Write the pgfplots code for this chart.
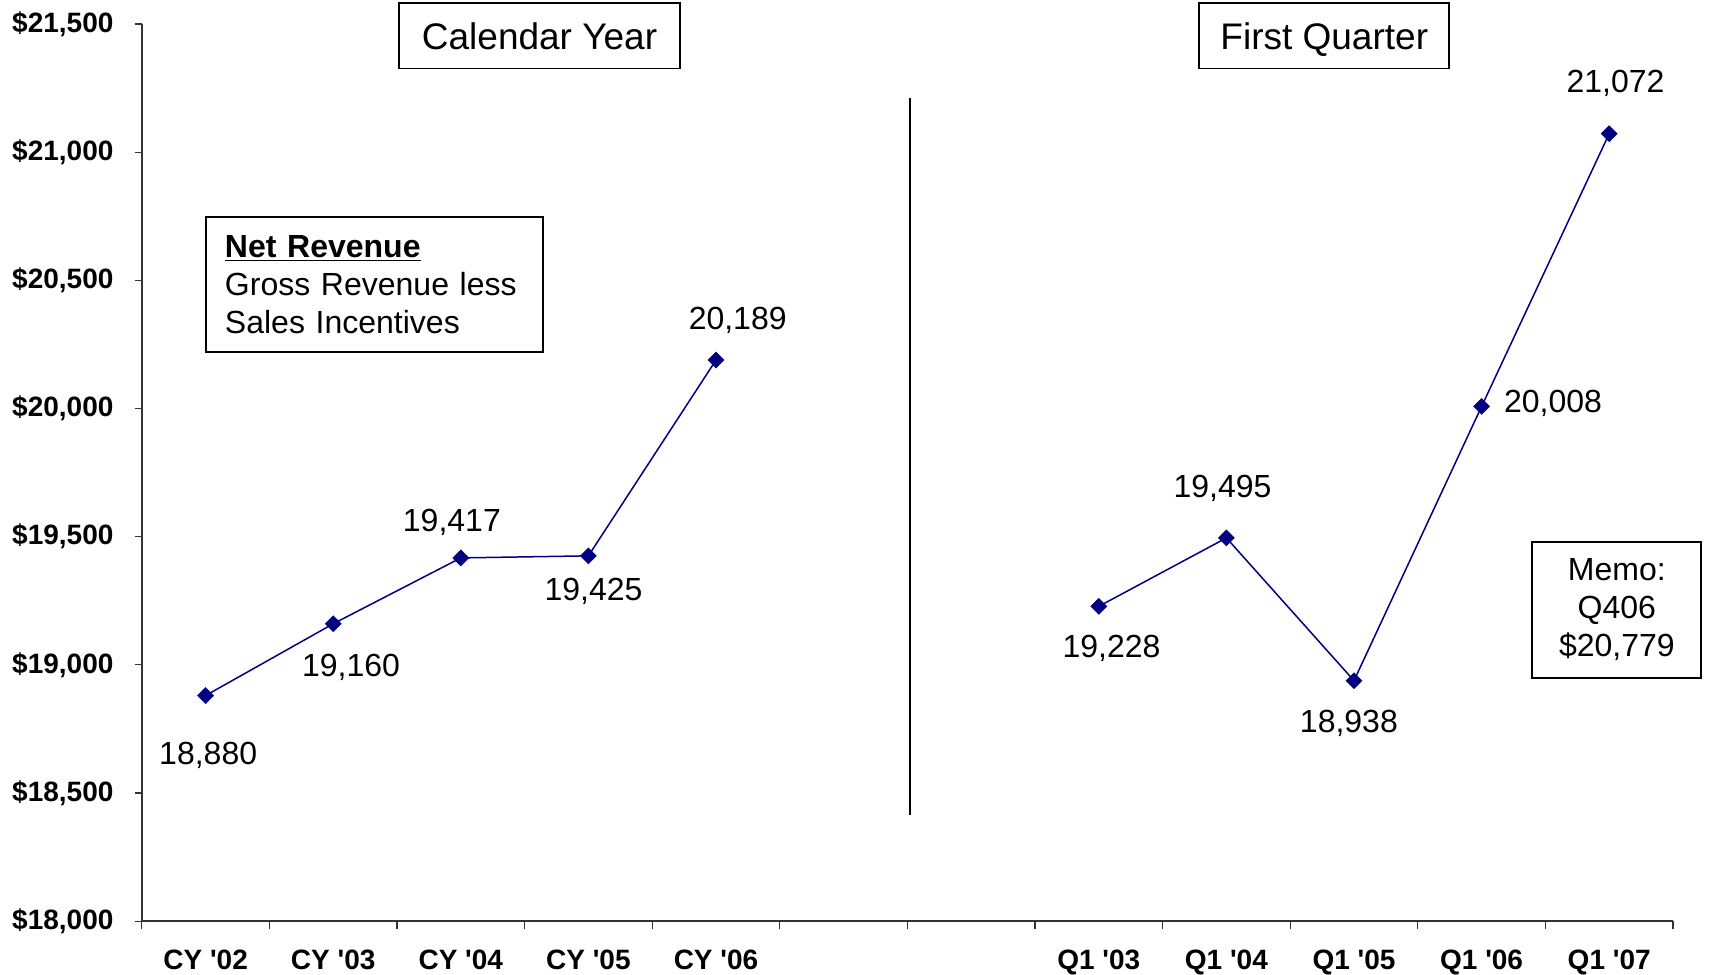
\documentclass[border=0pt]{standalone}
\usepackage{pgfplots}
\pgfplotsset{compat=1.18}
\usepackage{fontspec}
\setmainfont{Liberation Sans}
\definecolor{navy}{RGB}{0,0,128}
\newcommand{\ap}{\textquotesingle}
\begin{document}
\begin{tikzpicture}
\begin{axis}[
  scale only axis,
  width=765.5pt, height=448.5pt,
  xmin=-0.5, xmax=11.5,
  ymin=18000, ymax=21500,
  scaled y ticks=false,
  axis lines*=left,
  axis line style={black!80, line width=0.75pt},
  tick align=outside,
  xtick={0,1,2,3,4,5,6,7,8,9,10,11},
  xticklabels={CY \ap02,CY \ap03,CY \ap04,CY \ap05,CY \ap06,,,Q1 \ap03,Q1 \ap04,Q1 \ap05,Q1 \ap06,Q1 \ap07},
  major x tick style={draw=none},
  minor xtick={-0.5,0.5,...,11.5},
  minor tick length=4pt,
  minor x tick style={black!80, line width=0.6pt},
  ytick={18000,18500,...,21500},
  yticklabels={\$18{,}000,\$18{,}500,\$19{,}000,\$19{,}500,\$20{,}000,\$20{,}500,\$21{,}000,\$21{,}500},
  major tick length=3.5pt,
  major y tick style={black!80, line width=0.6pt},
  xticklabel style={font=\fontsize{14}{16}\selectfont\bfseries, inner sep=0pt, text height=10pt, text depth=0pt, yshift=-10.5pt},
  yticklabel style={font=\fontsize{14}{16}\selectfont\bfseries, inner sep=0pt, xshift=-10.5pt},
  clip=false,
]
\addplot[navy, line width=0.75pt, mark=square*, mark size=2.6pt, mark options={rotate=45, fill=navy}]
  coordinates {(0,18880) (1,19160) (2,19417) (3,19425) (4,20189)};
\addplot[navy, line width=0.75pt, mark=square*, mark size=2.6pt, mark options={rotate=45, fill=navy}]
  coordinates {(7,19228) (8,19495) (9,18938) (10,20008) (11,21072)};

\begin{scope}[every node/.style={font=\fontsize{16}{19}\selectfont}]
\node at (axis cs:0.02,18646) {18,880};
\node at (axis cs:1.14,18991) {19,160};
\node at (axis cs:1.93,19557) {19,417};
\node at (axis cs:3.04,19285) {19,425};
\node at (axis cs:4.17,20344) {20,189};
\node at (axis cs:7.10,19063) {19,228};
\node at (axis cs:7.97,19689) {19,495};
\node at (axis cs:8.96,18770) {18,938};
\node at (axis cs:10.56,20020) {20,008};
\node at (axis cs:11.05,21267) {21,072};
\end{scope}

\draw[black, line width=0.8pt] (axis cs:5.52,18413) -- (axis cs:5.52,21211);

\node[draw, line width=0.9pt, minimum width=140.6pt, minimum height=32.7pt, inner sep=0pt,
  text height=13.3pt, text depth=0pt,
  font=\fontsize{18.5}{22}\selectfont] at (axis cs:2.617,21454) {Calendar Year};
\node[draw, line width=0.9pt, minimum width=125pt, minimum height=32.7pt, inner sep=0pt,
  text height=13.3pt, text depth=0pt,
  font=\fontsize{18.5}{22}\selectfont] at (axis cs:8.767,21454) {First Quarter};

\node[draw, line width=0.9pt, text width=149.5pt, inner xsep=9.5pt, minimum height=67.5pt,
  align=left, font=\fontsize{16}{19}\selectfont] at (axis cs:1.3235,20484)
  {\underline{\textbf{Net Revenue}}\\Gross Revenue less\\Sales Incentives};
\node[draw, line width=0.9pt, minimum width=84.5pt, minimum height=68pt,
  align=center, font=\fontsize{16}{19}\selectfont] at (axis cs:11.06,19214)
  {Memo:\\Q406\\\$20,779};
\end{axis}
\path (current axis.south west) ++(-70.9pt,-26.7pt) coordinate (bbA);
\path (current axis.north east) ++(18pt,12pt) coordinate (bbB);
\path (bbA) rectangle (bbB);
\end{tikzpicture}
\end{document}
